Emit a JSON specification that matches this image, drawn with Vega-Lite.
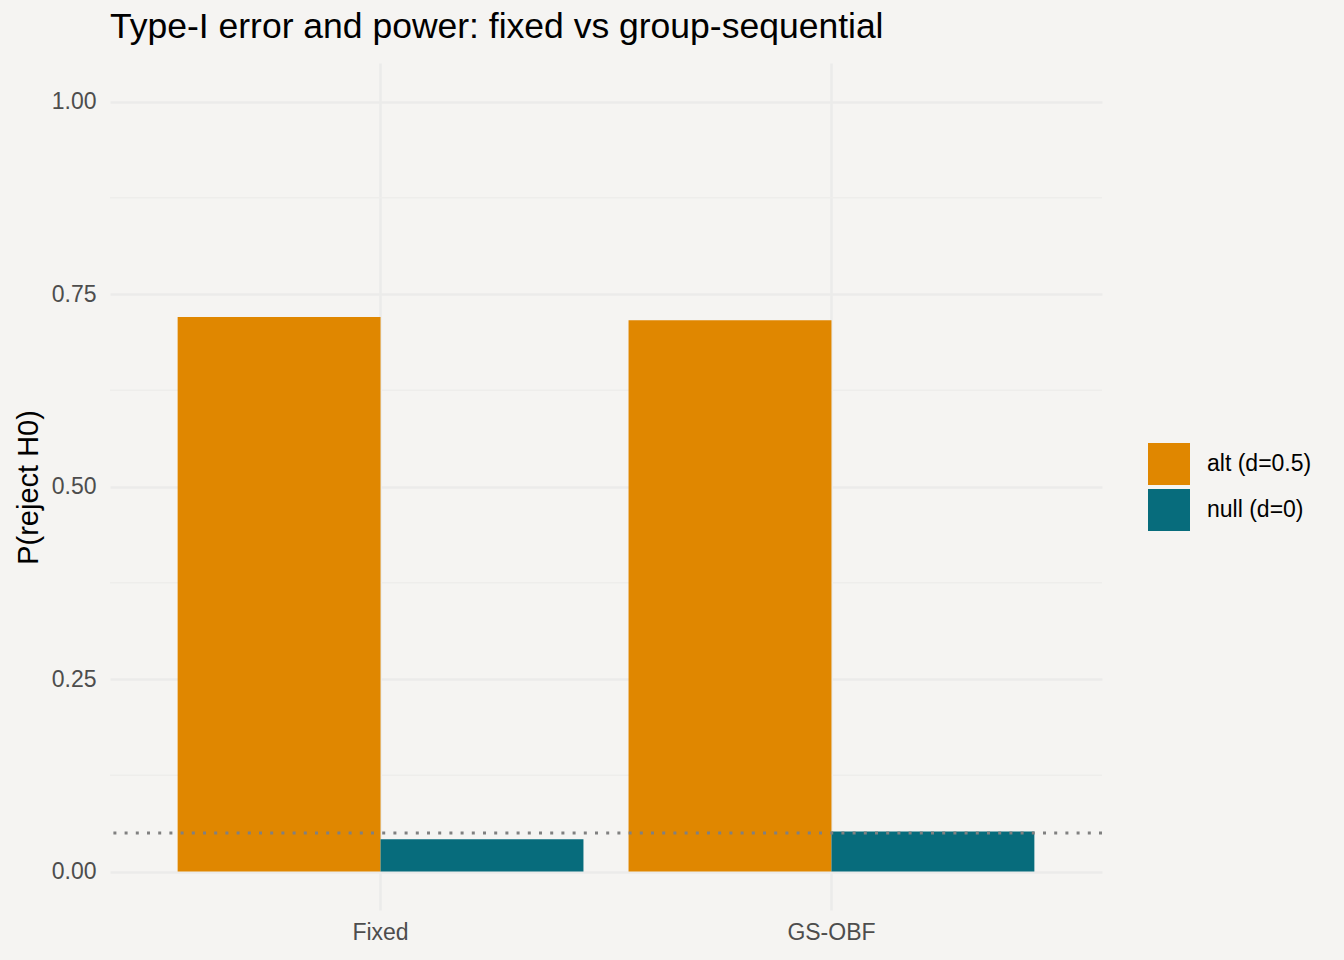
{
  "$schema": "https://vega.github.io/schema/vega-lite/v6.json",
  "autosize": {"type": "none"},
  "width": 992,
  "height": 847,
  "padding": {"left": 110, "top": 63, "right": 242, "bottom": 50},
  "background": "#F5F4F2",
  "title": {
    "text": "Type-I error and power: fixed vs group-sequential",
    "anchor": "start",
    "frame": "group",
    "fontSize": 35.5,
    "font": "Liberation Sans",
    "fontWeight": "normal",
    "color": "#000000",
    "baseline": "alphabetic",
    "offset": 23,
    "dy": 33
  },
  "config": {
    "view": {"stroke": null},
    "font": "Liberation Sans",
    "axis": {
      "labelFont": "Liberation Sans",
      "titleFont": "Liberation Sans",
      "gridColor": "#EBEBEA",
      "gridWidth": 2.6,
      "domain": false,
      "ticks": false,
      "tickSize": 0
    }
  },
  "datasets": {
    "bars": [
      {"method": "Fixed", "hypothesis": "alt (d=0.5)", "p": 0.720},
      {"method": "Fixed", "hypothesis": "null (d=0)", "p": 0.042},
      {"method": "GS-OBF", "hypothesis": "alt (d=0.5)", "p": 0.716},
      {"method": "GS-OBF", "hypothesis": "null (d=0)", "p": 0.052}
    ],
    "minor": [
      {"m": 0.125},
      {"m": 0.375},
      {"m": 0.625},
      {"m": 0.875}
    ],
    "alpha": [
      {"a": 0.05}
    ]
  },
  "layer": [
    {
      "data": {"name": "minor"},
      "mark": {"type": "rule", "color": "#EEEDEB", "strokeWidth": 1.3},
      "encoding": {
        "y": {"field": "m", "type": "quantitative", "scale": {"domain": [-0.05, 1.05], "nice": false, "zero": false}}
      }
    },
    {
      "data": {"name": "bars"},
      "mark": {"type": "bar"},
      "encoding": {
        "x": {
          "field": "method",
          "type": "nominal",
          "scale": {"paddingInner": 0.1, "paddingOuter": 0.15},
          "axis": {
            "title": null,
            "labelAngle": 0,
            "labelFontSize": 23,
            "labelColor": "#4D4D4D",
            "labelBaseline": "alphabetic",
            "labelPadding": 29,
            "grid": true,
            "bandPosition": 0.5
          }
        },
        "xOffset": {"field": "hypothesis", "type": "nominal", "scale": {"paddingInner": 0, "paddingOuter": 0}},
        "y": {
          "field": "p",
          "type": "quantitative",
          "scale": {"domain": [-0.05, 1.05], "nice": false, "zero": false},
          "axis": {
            "title": "P(reject H0)",
            "titleFontSize": 29,
            "titleFontWeight": "normal",
            "titleColor": "#000000",
            "titleAngle": -90,
            "titleAlign": "center",
            "titleBaseline": "alphabetic",
            "titleX": -73,
            "titleY": 424,
            "values": [0, 0.25, 0.5, 0.75, 1],
            "format": ".2f",
            "labelFontSize": 23,
            "labelColor": "#4D4D4D",
            "labelPadding": 14,
            "grid": true
          }
        },
        "y2": {"datum": 0},
        "color": {
          "field": "hypothesis",
          "type": "nominal",
          "scale": {"domain": ["alt (d=0.5)", "null (d=0)"], "range": ["#E08700", "#076C7C"]},
          "legend": {
            "title": null,
            "orient": "none",
            "legendX": 1038,
            "legendY": 380,
            "padding": 0,
            "symbolType": "square",
            "symbolSize": 1764,
            "symbolStrokeWidth": 0,
            "symbolOpacity": 1,
            "labelFontSize": 23,
            "labelColor": "#000000",
            "labelOffset": 17,
            "rowPadding": 4
          }
        }
      }
    },
    {
      "data": {"name": "alpha"},
      "mark": {"type": "rule", "color": "#808080", "strokeWidth": 3, "strokeDash": [3, 8.2], "strokeCap": "butt"},
      "encoding": {
        "y": {"field": "a", "type": "quantitative"}
      }
    }
  ]
}
